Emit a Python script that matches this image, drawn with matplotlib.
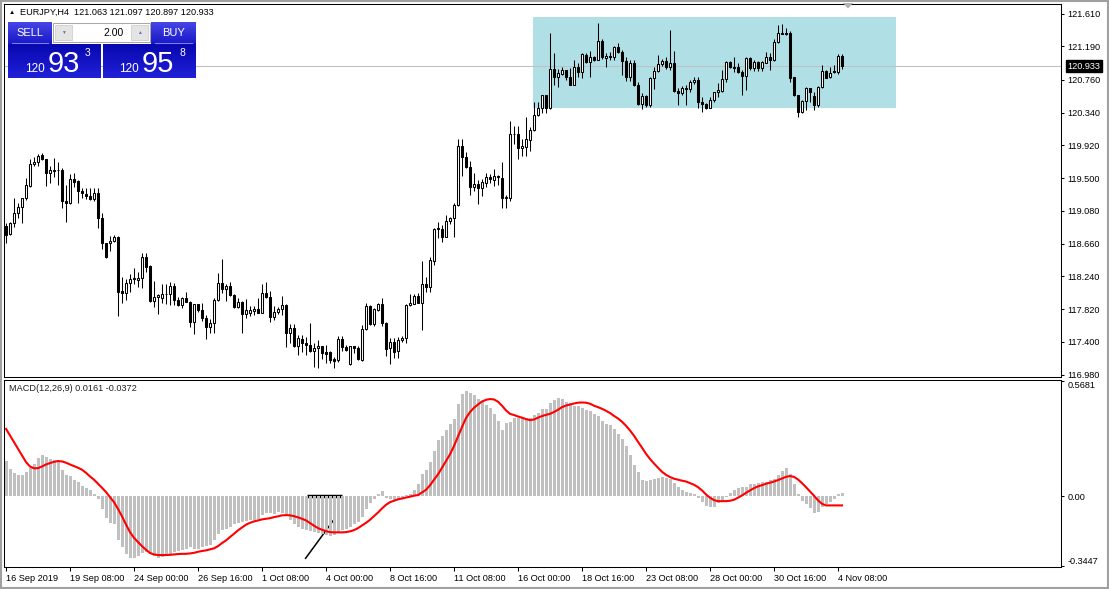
import numpy as np
import matplotlib
matplotlib.use("Agg")
import matplotlib.pyplot as plt
import matplotlib.transforms as mtransforms
from matplotlib.patches import Rectangle, Polygon
from matplotlib.colors import LinearSegmentedColormap

plt.rcParams['font.family'] = ['Liberation Sans', 'DejaVu Sans']

# Dataset (EURJPY H4)
# -------------------

opens = [118.886, 118.779, 118.920, 119.048, 119.125, 119.241, 119.400, 119.680, 119.700, 119.790,
         119.741, 119.561, 119.610, 119.600, 119.600, 119.210, 119.177, 119.490, 119.460, 119.340,
         119.300, 119.270, 119.228, 119.305, 118.990, 118.664, 118.664, 118.693, 118.748, 118.050,
         118.030, 118.151, 118.200, 118.190, 118.223, 118.492, 118.370, 117.928, 117.980, 117.959,
         118.014, 118.010, 118.116, 117.940, 117.873, 117.960, 117.915, 117.659, 117.885, 117.810,
         117.700, 117.594, 117.638, 117.937, 118.160, 118.074, 118.120, 118.000, 117.843, 117.915,
         117.757, 117.766, 117.790, 117.825, 117.774, 118.030, 117.979, 117.720, 117.787, 117.820,
         117.873, 117.510, 117.574, 117.347, 117.440, 117.390, 117.360, 117.287, 117.318, 117.347,
         117.270, 117.270, 117.180, 117.170, 117.433, 117.330, 117.116, 117.347, 117.318, 117.167,
         117.561, 117.860, 117.625, 117.810, 117.885, 117.640, 117.318, 117.402, 117.280, 117.420,
         117.446, 117.873, 117.890, 117.988, 117.900, 118.142, 118.107, 118.440, 118.856, 118.850,
         118.748, 118.950, 118.990, 119.150, 119.911, 119.766, 119.640, 119.389, 119.424, 119.369,
         119.440, 119.510, 119.470, 119.527, 119.500, 119.260, 119.240, 120.065, 120.065, 119.882,
         119.900, 119.990, 120.116, 120.309, 120.395, 120.565, 120.395, 120.895, 120.792, 120.840,
         120.886, 120.800, 120.693, 120.920, 120.864, 121.080, 120.990, 121.048, 121.020, 121.261,
         121.040, 121.060, 121.056, 121.177, 121.120, 121.005, 120.800, 120.979, 120.693, 120.450,
         120.552, 120.437, 120.779, 120.877, 120.962, 121.005, 120.920, 120.979, 120.620, 120.587,
         120.650, 120.645, 120.736, 120.757, 120.480, 120.450, 120.400, 120.500, 120.607, 120.620,
         120.766, 120.992, 120.930, 120.930, 120.864, 120.813, 121.036, 120.907, 120.992, 120.907,
         120.980, 121.048, 121.020, 121.240, 121.364, 121.360, 121.360, 120.790, 120.565, 120.351,
         120.492, 120.651, 120.550, 120.437, 120.664, 120.877, 120.790, 120.870, 120.860, 121.063]

highs = [118.924, 118.941, 119.241, 119.176, 119.250, 119.497, 119.741, 119.766, 119.809, 119.825,
         119.750, 119.655, 119.754, 119.706, 119.630, 119.411, 119.552, 119.561, 119.470, 119.377,
         119.369, 119.369, 119.369, 119.369, 119.048, 118.670, 118.757, 118.770, 118.760, 118.235,
         118.202, 118.270, 118.343, 118.300, 118.543, 118.536, 118.380, 118.184, 118.014, 118.142,
         118.142, 118.164, 118.159, 117.979, 117.979, 118.035, 117.930, 117.890, 117.890, 117.894,
         117.744, 117.689, 117.959, 118.287, 118.462, 118.142, 118.164, 118.010, 117.959, 117.920,
         117.950, 117.860, 117.860, 117.966, 118.142, 118.171, 118.056, 117.860, 117.851, 117.992,
         117.880, 117.629, 117.629, 117.488, 117.488, 117.459, 117.638, 117.382, 117.424, 117.350,
         117.360, 117.287, 117.210, 117.475, 117.475, 117.360, 117.350, 117.350, 117.347, 117.616,
         117.902, 117.873, 117.830, 117.902, 117.959, 117.650, 117.446, 117.446, 117.459, 117.475,
         117.880, 118.010, 118.010, 118.023, 118.437, 118.235, 118.484, 118.856, 118.933, 118.898,
         119.027, 119.005, 119.177, 119.997, 119.997, 119.838, 119.719, 119.561, 119.475, 119.488,
         119.569, 119.552, 119.612, 119.540, 119.710, 119.283, 120.232, 120.168, 120.168, 119.997,
         120.287, 120.150, 120.479, 120.479, 120.565, 120.565, 121.364, 121.107, 120.895, 120.928,
         120.890, 120.907, 121.014, 120.971, 121.107, 121.107, 121.133, 121.060, 121.492, 121.279,
         121.107, 121.120, 121.193, 121.228, 121.140, 121.056, 121.014, 121.014, 120.736, 120.587,
         120.565, 120.800, 120.928, 121.078, 121.023, 121.048, 121.398, 121.133, 120.651, 120.680,
         120.693, 120.757, 120.800, 120.800, 120.535, 120.460, 120.535, 120.610, 120.715, 120.886,
         121.000, 121.005, 121.056, 120.971, 120.886, 121.056, 121.056, 121.014, 121.005, 121.005,
         121.120, 121.100, 121.279, 121.462, 121.471, 121.420, 121.389, 120.800, 120.570, 120.500,
         120.671, 120.660, 120.607, 120.680, 120.950, 120.886, 120.920, 120.950, 121.090, 121.097]

lows = [118.671, 118.770, 118.876, 118.984, 118.928, 119.220, 119.382, 119.655, 119.659, 119.732,
        119.402, 119.441, 119.518, 119.407, 119.112, 118.941, 119.170, 119.382, 119.184, 119.241,
        119.228, 119.219, 119.206, 118.856, 118.587, 118.480, 118.569, 118.680, 117.732, 117.902,
        117.937, 118.043, 118.138, 118.107, 118.095, 118.300, 117.911, 117.851, 117.753, 117.894,
        117.885, 117.873, 117.873, 117.860, 117.830, 117.910, 117.594, 117.497, 117.779, 117.671,
        117.433, 117.517, 117.517, 117.930, 118.023, 117.928, 117.988, 117.830, 117.830, 117.517,
        117.702, 117.732, 117.745, 117.770, 117.766, 117.959, 117.659, 117.680, 117.753, 117.745,
        117.338, 117.381, 117.330, 117.232, 117.274, 117.232, 117.266, 117.074, 117.061, 117.176,
        117.125, 117.133, 117.061, 117.146, 117.287, 117.287, 117.110, 117.261, 117.167, 117.158,
        117.552, 117.616, 117.607, 117.800, 117.607, 117.219, 117.116, 117.189, 117.189, 117.400,
        117.389, 117.860, 117.880, 117.894, 117.552, 118.043, 118.043, 118.385, 118.728, 118.684,
        118.740, 118.907, 118.748, 119.140, 119.527, 119.625, 119.283, 119.338, 119.168, 119.270,
        119.382, 119.441, 119.398, 119.411, 119.120, 119.112, 119.210, 119.937, 119.745, 119.783,
        119.783, 119.848, 120.104, 120.296, 120.338, 120.330, 120.382, 120.693, 120.671, 120.820,
        120.757, 120.690, 120.690, 120.800, 120.779, 120.979, 120.800, 121.005, 121.010, 121.030,
        120.928, 121.014, 121.014, 121.107, 120.821, 120.745, 120.745, 120.680, 120.440, 120.382,
        120.415, 120.415, 120.638, 120.864, 120.940, 120.895, 120.886, 120.607, 120.437, 120.565,
        120.437, 120.607, 120.706, 120.395, 120.351, 120.382, 120.400, 120.479, 120.535, 120.607,
        120.736, 120.907, 120.864, 120.843, 120.565, 120.629, 120.886, 120.873, 120.873, 120.877,
        120.971, 120.886, 121.000, 121.228, 121.347, 121.335, 120.736, 120.552, 120.287, 120.338,
        120.373, 120.479, 120.373, 120.415, 120.651, 120.779, 120.779, 120.843, 120.840, 120.897]

closes = [118.770, 118.920, 119.048, 119.125, 119.241, 119.411, 119.680, 119.710, 119.787, 119.741,
          119.561, 119.603, 119.590, 119.600, 119.210, 119.177, 119.488, 119.454, 119.338, 119.305,
          119.270, 119.228, 119.305, 118.992, 118.664, 118.492, 118.693, 118.748, 118.043, 118.030,
          118.151, 118.206, 118.223, 118.225, 118.492, 118.364, 117.928, 117.979, 118.001, 118.014,
          118.014, 118.116, 117.937, 117.873, 117.959, 117.915, 117.659, 117.885, 117.808, 117.702,
          117.594, 117.638, 117.937, 118.159, 118.074, 118.116, 118.001, 117.843, 117.915, 117.757,
          117.808, 117.808, 117.825, 117.774, 118.030, 117.979, 117.723, 117.787, 117.821, 117.873,
          117.510, 117.574, 117.347, 117.446, 117.389, 117.360, 117.287, 117.318, 117.347, 117.253,
          117.245, 117.167, 117.159, 117.433, 117.330, 117.300, 117.347, 117.318, 117.176, 117.561,
          117.860, 117.625, 117.817, 117.885, 117.638, 117.305, 117.402, 117.274, 117.424, 117.446,
          117.873, 117.902, 117.988, 117.902, 118.142, 118.107, 118.450, 118.843, 118.843, 118.741,
          118.950, 118.992, 119.155, 119.911, 119.766, 119.646, 119.389, 119.424, 119.369, 119.454,
          119.510, 119.484, 119.527, 119.510, 119.248, 119.241, 120.065, 120.065, 119.882, 119.911,
          119.997, 120.116, 120.309, 120.395, 120.565, 120.395, 120.895, 120.792, 120.843, 120.886,
          120.800, 120.693, 120.920, 120.864, 121.091, 120.992, 121.048, 121.014, 121.261, 121.048,
          121.065, 121.056, 121.177, 121.120, 121.005, 120.800, 120.979, 120.693, 120.450, 120.552,
          120.437, 120.779, 120.877, 120.962, 121.005, 120.920, 120.979, 120.620, 120.587, 120.651,
          120.645, 120.736, 120.757, 120.479, 120.450, 120.402, 120.501, 120.607, 120.629, 120.766,
          120.992, 120.928, 120.910, 120.864, 120.813, 121.036, 120.907, 120.992, 120.907, 120.990,
          121.048, 121.020, 121.248, 121.364, 121.350, 121.350, 120.779, 120.565, 120.351, 120.492,
          120.651, 120.607, 120.437, 120.664, 120.877, 120.779, 120.850, 120.860, 121.063, 120.933]

# MACD(12,26,9): main line (histogram) and signal line
macd = [0.173, 0.135, 0.115, 0.102, 0.102, 0.118, 0.140, 0.160, 0.189, 0.201,
        0.192, 0.184, 0.176, 0.173, 0.130, 0.102, 0.097, 0.081, 0.069, 0.048,
        0.041, 0.028, 0.012, -0.013, -0.063, -0.107, -0.133, -0.140, -0.215, -0.252,
        -0.288, -0.304, -0.306, -0.298, -0.281, -0.276, -0.285, -0.296, -0.304, -0.301,
        -0.293, -0.288, -0.276, -0.271, -0.265, -0.260, -0.252, -0.260, -0.260, -0.252,
        -0.247, -0.239, -0.215, -0.189, -0.169, -0.161, -0.153, -0.140, -0.133, -0.128,
        -0.123, -0.120, -0.117, -0.112, -0.095, -0.084, -0.084, -0.087, -0.079, -0.084,
        -0.100, -0.117, -0.137, -0.153, -0.161, -0.166, -0.173, -0.178, -0.183, -0.189,
        -0.194, -0.199, -0.194, -0.183, -0.169, -0.161, -0.153, -0.140, -0.128, -0.104,
        -0.063, -0.035, -0.013, 0.012, 0.023, -0.008, -0.013, -0.018, -0.016, -0.008,
        0.003, 0.012, 0.031, 0.061, 0.107, 0.127, 0.168, 0.225, 0.275, 0.299,
        0.327, 0.354, 0.382, 0.456, 0.502, 0.521, 0.510, 0.497, 0.480, 0.469,
        0.452, 0.436, 0.406, 0.370, 0.327, 0.360, 0.365, 0.387, 0.387, 0.390,
        0.387, 0.387, 0.398, 0.410, 0.431, 0.431, 0.459, 0.472, 0.485, 0.480,
        0.464, 0.459, 0.447, 0.443, 0.436, 0.426, 0.419, 0.406, 0.393, 0.373,
        0.357, 0.349, 0.332, 0.308, 0.283, 0.245, 0.201, 0.151, 0.118, 0.077,
        0.074, 0.077, 0.086, 0.090, 0.094, 0.090, 0.084, 0.064, 0.044, 0.028,
        0.020, 0.015, 0.012, -0.008, -0.030, -0.049, -0.054, -0.054, -0.035, -0.025,
        -0.005, 0.015, 0.031, 0.041, 0.044, 0.044, 0.058, 0.061, 0.066, 0.069,
        0.072, 0.077, 0.082, 0.102, 0.123, 0.140, 0.110, 0.061, 0.008, -0.025,
        -0.041, -0.058, -0.084, -0.079, -0.054, -0.038, -0.030, -0.013, 0.012, 0.016]

signal = [0.332, 0.299, 0.266, 0.234, 0.201, 0.168, 0.146, 0.137, 0.138, 0.146,
          0.156, 0.163, 0.169, 0.173, 0.171, 0.165, 0.156, 0.148, 0.140, 0.130,
          0.115, 0.097, 0.081, 0.061, 0.041, 0.020, -0.005, -0.030, -0.063, -0.100,
          -0.140, -0.178, -0.206, -0.227, -0.247, -0.265, -0.281, -0.288, -0.291, -0.291,
          -0.291, -0.290, -0.288, -0.286, -0.285, -0.285, -0.283, -0.280, -0.275, -0.271,
          -0.268, -0.263, -0.258, -0.247, -0.232, -0.219, -0.202, -0.186, -0.169, -0.155,
          -0.141, -0.132, -0.125, -0.120, -0.115, -0.112, -0.109, -0.104, -0.100, -0.095,
          -0.094, -0.095, -0.099, -0.105, -0.112, -0.120, -0.133, -0.146, -0.158, -0.166,
          -0.173, -0.178, -0.179, -0.179, -0.179, -0.178, -0.174, -0.168, -0.158, -0.145,
          -0.132, -0.117, -0.099, -0.081, -0.061, -0.043, -0.030, -0.023, -0.016, -0.012,
          -0.007, -0.003, 0.002, 0.005, 0.018, 0.031, 0.053, 0.081, 0.107, 0.140,
          0.173, 0.206, 0.247, 0.294, 0.341, 0.385, 0.415, 0.436, 0.452, 0.467,
          0.475, 0.479, 0.477, 0.466, 0.446, 0.423, 0.406, 0.400, 0.393, 0.387,
          0.380, 0.375, 0.378, 0.387, 0.395, 0.401, 0.406, 0.415, 0.426, 0.439,
          0.447, 0.452, 0.457, 0.461, 0.462, 0.461, 0.456, 0.446, 0.439, 0.431,
          0.421, 0.410, 0.396, 0.383, 0.367, 0.347, 0.324, 0.298, 0.268, 0.239,
          0.209, 0.183, 0.161, 0.140, 0.120, 0.105, 0.094, 0.086, 0.081, 0.076,
          0.072, 0.064, 0.056, 0.044, 0.028, 0.008, -0.008, -0.020, -0.025, -0.025,
          -0.025, -0.023, -0.018, -0.008, 0.003, 0.016, 0.028, 0.039, 0.048, 0.054,
          0.061, 0.066, 0.072, 0.079, 0.087, 0.095, 0.099, 0.095, 0.082, 0.064,
          0.044, 0.023, 0.002, -0.021, -0.038, -0.046, -0.046, -0.046, -0.046, -0.046]

date_labels = ['16 Sep 2019', '19 Sep 08:00', '24 Sep 00:00', '26 Sep 16:00', '1 Oct 08:00',
               '4 Oct 00:00', '8 Oct 16:00', '11 Oct 08:00', '16 Oct 00:00', '18 Oct 16:00',
               '23 Oct 08:00', '28 Oct 00:00', '30 Oct 16:00', '4 Nov 08:00']
price_ticks = [121.610, 121.190, 120.760, 120.340, 119.920, 119.500,
               119.080, 118.660, 118.240, 117.820, 117.400, 116.980]
macd_ticks = [0.5681, 0.0, -0.3447]
macd_tick_labels = ['0.5681', '0.00', '-0.3447']
bid = 120.933

# rectangle object drawn on the chart (bar index / price)
box_x = [131.75, 222.5]
box_y = [120.398, 121.565]
# trend line and level drawn in the MACD window (bar index / value)
trend_x = [74.9, 82.25]
trend_y = [-0.307, -0.109]
level_x = [75.25, 84.0]

# Draw Plot
# ---------

W, H = 1109, 589
fig = plt.figure(figsize=(W / 100, H / 100), dpi=100)

def rect(x0, y0, x1, y1):
    return [x0 / W, 1 - y1 / H, (x1 - x0) / W, (y1 - y0) / H]

ax = fig.add_axes(rect(4, 4, 1061, 377))
ax2 = fig.add_axes(rect(4, 380, 1061, 567))

x = np.arange(len(closes))
o = np.array(opens)
c = np.array(closes)
up = c >= o

ax.add_patch(Rectangle((box_x[0], box_y[0]), box_x[1] - box_x[0], box_y[1] - box_y[0],
                       facecolor='#B0E0E6', edgecolor='none', zorder=1))
ax.axhline(bid, color='#C0C0C0', lw=0.75, zorder=2)
ax.vlines(x, lows, highs, color='black', lw=0.75, zorder=3)
ax.bar(x, np.maximum(np.abs(c - o), 0.004), bottom=np.minimum(o, c), width=0.55,
       color=['white' if u else 'black' for u in up], edgecolor='black', linewidth=0.75, zorder=4)

ax.set_xlim(-0.5, 263.75)
ax.set_ylim(116.950, 121.732)
ax.set_xticks([])
ax.yaxis.tick_right()
ax.set_yticks(price_ticks)
ax.set_yticklabels(['%.3f' % p for p in price_ticks])
ax.tick_params(axis='y', length=2.5, width=0.75, pad=2, labelsize=6.6)

tr = mtransforms.blended_transform_factory(ax.transAxes, ax.transData)
ax.text(1.0062, bid, '%.3f' % bid, transform=tr, color='white', fontsize=6.6, va='center', ha='left',
        bbox=dict(facecolor='black', edgecolor='black', boxstyle='square,pad=0.15'), zorder=10)

# MACD window
ax2.plot(level_x, [-0.002, -0.002], color='black', lw=2.5, solid_capstyle='butt', zorder=1)
ax2.plot(trend_x, trend_y, color='black', lw=1.1, zorder=1)
ax2.bar(x, macd, width=0.75, color='#C0C0C0', zorder=2)
ax2.plot(x, signal, color='#FF0000', lw=1.5, zorder=4)
ax2.set_xlim(-0.5, 263.75)
ax2.set_ylim(-0.350, 0.573)
ax2.yaxis.tick_right()
ax2.set_yticks(macd_ticks)
ax2.set_yticklabels(macd_tick_labels)
ax2.tick_params(axis='y', length=2.5, width=0.75, pad=2, labelsize=6.6)
ylabs = ax2.get_yticklabels()
ylabs[0].set_va('top')
ylabs[-1].set_va('bottom')
ax2.set_xticks(np.arange(len(date_labels)) * 16)
ax2.set_xticklabels(date_labels, ha='left')
ax2.tick_params(axis='x', length=3, width=0.75, pad=2, labelsize=6.6)
ax2.text(0.005, 0.955, 'MACD(12,26,9) 0.0161 -0.0372', transform=ax2.transAxes,
         fontsize=6.6, color='#202020', va='center', ha='left')

for a in (ax, ax2):
    for s in a.spines.values():
        s.set_linewidth(0.75)

# overlay in pixel coordinates: header, trade panel, window frame
ov = fig.add_axes([0, 0, 1, 1], zorder=20)
ov.patch.set_alpha(0)
ov.axis('off')

def gradient_box(x0, y0, x1, y1, c0, c1):
    cm = LinearSegmentedColormap.from_list('g', [c0, c1])
    g = np.linspace(0, 1, 40).reshape(-1, 1)
    ov.imshow(g, extent=(x0, x1, y1, y0), cmap=cm, aspect='auto', zorder=1, interpolation='bilinear')

ov.text(9, 12.5, '\u25B2', fontsize=4.5, va='center', ha='left', color='black')
ov.text(20, 12.5, 'EURJPY,H4  121.063 121.097 120.897 120.933', fontsize=6.6, va='center', ha='left')

gradient_box(8, 22, 52, 44, '#4646e6', '#1818c8')
gradient_box(151, 22, 196, 44, '#4646e6', '#1818c8')
gradient_box(8, 44, 101, 78, '#0808b0', '#2020d8')
gradient_box(103, 44, 196, 78, '#0808b0', '#2020d8')
ov.plot([12, 48], [43.3, 43.3], color='#7a7af0', lw=0.8, zorder=2)
ov.plot([155, 192], [43.3, 43.3], color='#7a7af0', lw=0.8, zorder=2)
ov.text(30, 33, 'SELL', color='white', fontsize=8, ha='center', va='center', zorder=3)
ov.text(173.5, 33, 'BUY', color='white', fontsize=8, ha='center', va='center', zorder=3)

ov.add_patch(Rectangle((53, 23), 97, 19, facecolor='white', edgecolor='#a8a8a8', lw=0.75, zorder=2))
ov.add_patch(Rectangle((55, 25), 17, 15, facecolor='#e4e4e4', edgecolor='#c8c8c8', lw=0.5, zorder=3))
ov.add_patch(Rectangle((131, 25), 17, 15, facecolor='#e4e4e4', edgecolor='#c8c8c8', lw=0.5, zorder=3))
ov.text(63.5, 32.5, '\u25BC', fontsize=3.5, color='#5a78a8', ha='center', va='center', zorder=4)
ov.text(139.5, 32, '\u25B2', fontsize=3.5, color='#5a78a8', ha='center', va='center', zorder=4)
ov.text(124, 32.5, '2.00', fontsize=7.5, ha='right', va='center', zorder=4)

ov.text(25, 72, '120', color='white', fontsize=8.5, ha='left', va='baseline', zorder=3)
ov.text(48, 72, '93', color='white', fontsize=21, ha='left', va='baseline', zorder=3)
ov.text(85, 56, '3', color='white', fontsize=7.5, ha='left', va='baseline', zorder=3)
ov.text(119, 72, '120', color='white', fontsize=8.5, ha='left', va='baseline', zorder=3)
ov.text(142, 72, '95', color='white', fontsize=21, ha='left', va='baseline', zorder=3)
ov.text(180, 56, '8', color='white', fontsize=7.5, ha='left', va='baseline', zorder=3)

ov.add_patch(Polygon([[843, 3], [853, 3], [848, 8.5]], closed=True, facecolor='#b0b0b0', edgecolor='none'))
ov.add_patch(Rectangle((0.8, 0.5), W - 1.6, H - 1.3, fill=False, edgecolor='#a0a0a0', lw=1.5))

ov.set_xlim(0, W)
ov.set_ylim(H, 0)

plt.savefig('out.png', dpi=100, facecolor='white')
